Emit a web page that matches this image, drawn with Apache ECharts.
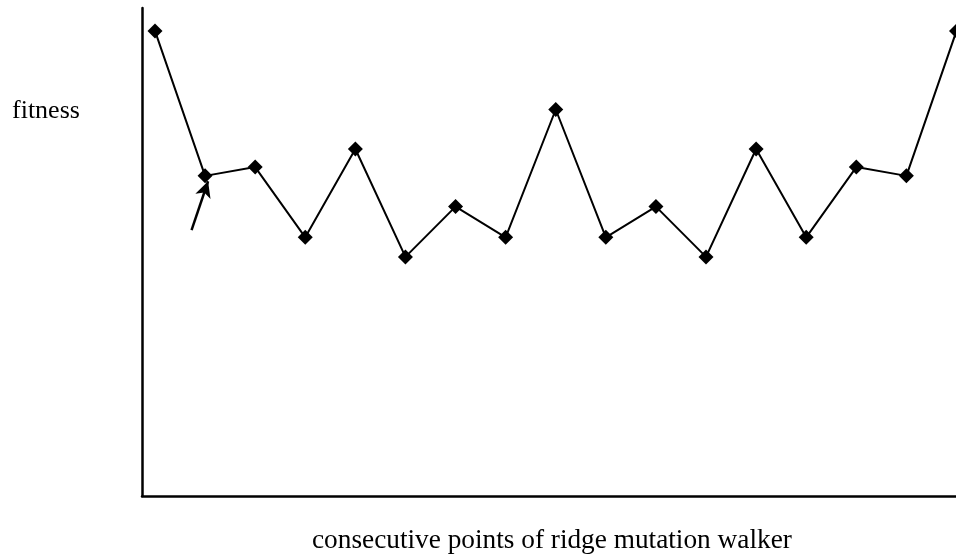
<!DOCTYPE html>
<html>
<head>
<meta charset="utf-8">
<script src="https://cdn.jsdelivr.net/npm/echarts@6/dist/echarts.min.js"></script>
<style>
  html, body { margin: 0; padding: 0; background: #fff; }
  #chart { width: 956px; height: 555px; }
</style>
</head>
<body>
<div id="chart"></div>
<script>
// consecutive points of the walker (index) and their fitness
var steps = [0, 1, 2, 3, 4, 5, 6, 7, 8, 9, 10, 11, 12, 13, 14, 15, 16];
var fitness = [95.3, 65.6, 67.4, 53.0, 71.1, 49.0, 59.3, 53.0, 79.2, 53.0, 59.3, 49.0, 71.1, 53.0, 67.4, 65.6, 95.3];
// arrow pointing at the second point: [step, fitness] tail and head
var arrowFrom = [0.73, 54.5];
var arrowTo = [1.06, 64.5];

var serif = "'Liberation Serif', 'Times New Roman', serif";

var chart = echarts.init(document.getElementById('chart'));
chart.setOption({
  animation: false,
  grid: { left: 142, top: 8, bottom: 59, right: 0 },
  xAxis: {
    type: 'value',
    min: -0.259,
    max: 15.99,
    axisLine: { show: true, onZero: false, lineStyle: { color: '#000', width: 2.5 } },
    axisTick: { show: false },
    axisLabel: { show: false },
    splitLine: { show: false }
  },
  yAxis: {
    type: 'value',
    min: 0,
    max: 100,
    axisLine: { show: true, onZero: false, lineStyle: { color: '#000', width: 2.5 } },
    axisTick: { show: false },
    axisLabel: { show: false },
    splitLine: { show: false }
  },
  graphic: [
    { type: 'text', left: 12, top: 98, style: { text: 'fitness', font: '26px ' + serif, fill: '#000' } },
    { type: 'text', left: 312, top: 527, style: { text: 'consecutive points of ridge mutation walker', font: '27.3px ' + serif, fill: '#000' } }
  ],
  series: [{
    type: 'line',
    clip: false,
    data: steps.map(function (s, i) { return [s, fitness[i]]; }),
    symbol: 'diamond',
    symbolSize: 15,
    itemStyle: { color: '#000' },
    lineStyle: { color: '#000', width: 2 },
    markLine: {
      silent: true,
      symbol: ['none', 'arrow'],
      symbolSize: [12, 16],
      label: { show: false },
      lineStyle: { color: '#000', width: 2.5, type: 'solid' },
      data: [[{ coord: arrowFrom }, { coord: arrowTo }]]
    }
  }]
});
</script>
</body>
</html>
